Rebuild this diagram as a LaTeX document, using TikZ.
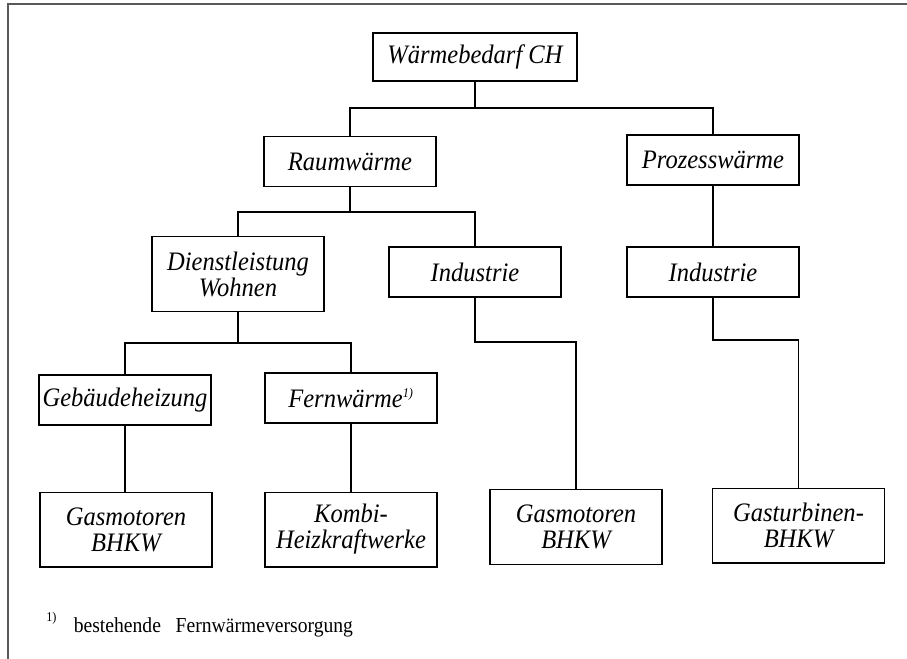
\documentclass[tikz,border=0pt]{standalone}
\usepackage{fontspec}
\setmainfont{Liberation Serif}[FakeStretch=0.92]
\usepackage{tikz}

\tikzset{
	kasten/.style={draw, line width=1pt, minimum width=129pt, minimum height=37.5pt,
		inner sep=2pt, align=center, font=\fontsize{20}{19.5}\selectfont\itshape},
	hoch/.style={kasten, minimum height=56pt},
	ast/.style={line width=0.9pt}
}

\begin{document}
\begin{tikzpicture}[x=0.75pt,y=-0.75pt]

\definecolor{rahmen}{gray}{0.35}

\useasboundingbox (0,0) rectangle (907,659);
\draw[rahmen,line width=1.3pt] (907,4)--(8,4)--(8,659);

% Ebene 1 und 2
\node[kasten,minimum width=153pt,minimum height=36pt] (bedarf) at (475,57) {Wärmebedarf CH};
\node[kasten] (raum) at (350,161.5) {Raumwärme};
\node[kasten] (prozess) at (713,160) {Prozesswärme};

% Ebene 3
\node[hoch] (dienst) at (238,274) {Dienstleistung\\Wohnen};
\node[kasten] (indraum) at (475,272) {Industrie};
\node[kasten] (indproz) at (713,272) {Industrie};

% Ebene 4
\node[kasten] (gebaeude) at (125,400) {Gebäudeheizung};
\node[kasten] (fern) at (351,398) {Fernwärme\textsuperscript{\fontsize{10}{10}\selectfont 1)}};

% Ebene 5
\node[hoch] (gasa) at (126,529.5) {Gasmotoren\\BHKW};
\node[hoch] (kombi) at (351,529.5) {Kombi-\\Heizkraftwerke};
\node[hoch] (gasb) at (576,527) {Gasmotoren\\BHKW};
\node[hoch] (turbine) at (798.5,525.5) {Gasturbinen-\\BHKW};

\coordinate (v1) at (475,108);
\coordinate (v2) at (350,212);
\coordinate (v3) at (238,343);
\coordinate (v4) at (475,342);
\coordinate (v5) at (713,340);

\draw[ast] (bedarf.south)--(v1) -| (raum.north);
\draw[ast] (v1) -| (prozess.north);
\draw[ast] (raum.south)--(v2) -| (dienst.north);
\draw[ast] (v2) -| (indraum.north);
\draw[ast] (prozess.south)--(indproz.north);
\draw[ast] (dienst.south)--(v3) -| (gebaeude.north);
\draw[ast] (v3) -| (fern.north);
\draw[ast] (gebaeude.south)--(gasa.north -| gebaeude.south);
\draw[ast] (fern.south)--(kombi.north -| fern.south);
\draw[ast] (indraum.south)--(v4) -| (gasb.north);
\draw[ast] (indproz.south)--(v5) -| (turbine.north);

% Fussnote
\node[anchor=base west,inner sep=0pt,font=\fontsize{16}{18}\selectfont] (fussnote) at (46,632)
	{\raisebox{1.1ex}{\fontsize{10}{10}\selectfont 1)}\hspace{13pt}bestehende\hspace{11pt}Fernwärmeversorgung};

\end{tikzpicture}
\end{document}
